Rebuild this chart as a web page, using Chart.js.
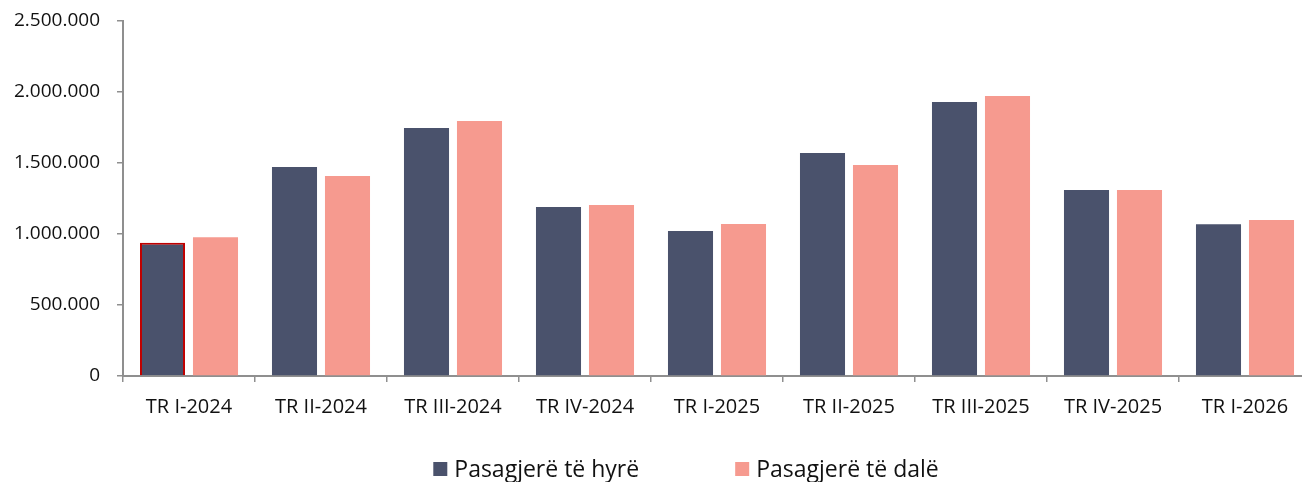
<!DOCTYPE html>
<html>
<head>
<meta charset="utf-8">
<script src="https://cdn.jsdelivr.net/npm/chart.js@4"></script>
<style>
html,body{margin:0;padding:0;background:#fff;overflow:hidden;width:1302px;height:482px;}
canvas{display:block;}
</style>
</head>
<body>
<canvas id="c" width="1320" height="482"></canvas>
<script>
const categories = ["TR I-2024","TR II-2024","TR III-2024","TR IV-2024","TR I-2025","TR II-2025","TR III-2025","TR IV-2025","TR I-2026"];
const arriving = [938000,1472000,1746000,1190000,1021000,1570000,1930000,1310000,1068000];
const departing = [977000,1408000,1796000,1204000,1070000,1486000,1972000,1310000,1099000];
const seriesNames = ["Pasagjerë të hyrë","Pasagjerë të dalë"];
const yTicks = [0,500000,1000000,1500000,2000000,2500000];

const DARK = "#4a526c";
const PINK = "#f69a8f";
const AXIS = "#8f8f8f";
const FONT = "'Open Sans', 'Noto Sans', sans-serif";

function fmt(v){ return String(v).replace(/\B(?=(\d{3})+(?!\d))/g, "."); }

const legendPlugin = {
  id: "customLegend",
  afterDraw(chart){
    const ctx = chart.ctx;
    ctx.save();
    ctx.font = "23px " + FONT;
    ctx.textBaseline = "middle";
    ctx.textAlign = "left";
    const box = 14, gapText = 7, gapItems = 96, cy = 469;
    const items = chart.data.datasets.map(d => ({text: d.label, color: d.backgroundColor, w: box + gapText + ctx.measureText(d.label).width}));
    const total = items.reduce((s,i)=>s+i.w,0) + gapItems*(items.length-1);
    let x = 686 - total/2;
    items.forEach(it => {
      ctx.fillStyle = it.color;
      ctx.fillRect(x, cy - box/2, box, box);
      ctx.fillStyle = "#111";
      ctx.fillText(it.text, x + box + gapText, cy + 1);
      x += it.w + gapItems;
    });
    ctx.restore();
  }
};

new Chart(document.getElementById("c"), {
  type: "bar",
  data: {
    labels: categories,
    datasets: [
      {label: seriesNames[0], data: arriving, backgroundColor: DARK,
       borderColor: arriving.map((v,i)=> i===0 ? "#c00000" : DARK), borderWidth: arriving.map((v,i)=> i===0 ? 2 : 0),
       categoryPercentage: 0.803, barPercentage: 0.85},
      {label: seriesNames[1], data: departing, backgroundColor: PINK, borderWidth: 0,
       categoryPercentage: 0.803, barPercentage: 0.85}
    ]
  },
  options: {
    responsive: false,
    animation: false,
    layout: {padding: {left: 0, right: 9, top: 21, bottom: 0}},
    plugins: {legend: {display: false}, tooltip: {enabled: false}},
    scales: {
      x: {
        grid: {display: true, drawOnChartArea: false, drawTicks: true, tickLength: 6, color: AXIS, lineWidth: 1.5, offset: true},
        border: {display: true, color: AXIS, width: 2},
        ticks: {color: "#111", font: {family: FONT, size: 20}, padding: 13, maxRotation: 0, autoSkip: false},
        afterFit(s){ s.height = 106; s.paddingLeft = 0; s.paddingRight = 0; }
      },
      y: {
        min: 0, max: 2500000,
        afterBuildTicks(s){ s.ticks = yTicks.map(v=>({value:v})); },
        grid: {display: true, drawOnChartArea: false, drawTicks: true, tickLength: 6, color: AXIS, lineWidth: 1.5},
        border: {display: true, color: AXIS, width: 2},
        ticks: {color: "#111", font: {family: FONT, size: 19}, padding: 17, callback: v => fmt(v)},
        afterFit(s){ s.width = 123; s.paddingTop = 0; s.paddingBottom = 0; }
      }
    }
  },
  plugins: [legendPlugin]
});
</script>
</body>
</html>
